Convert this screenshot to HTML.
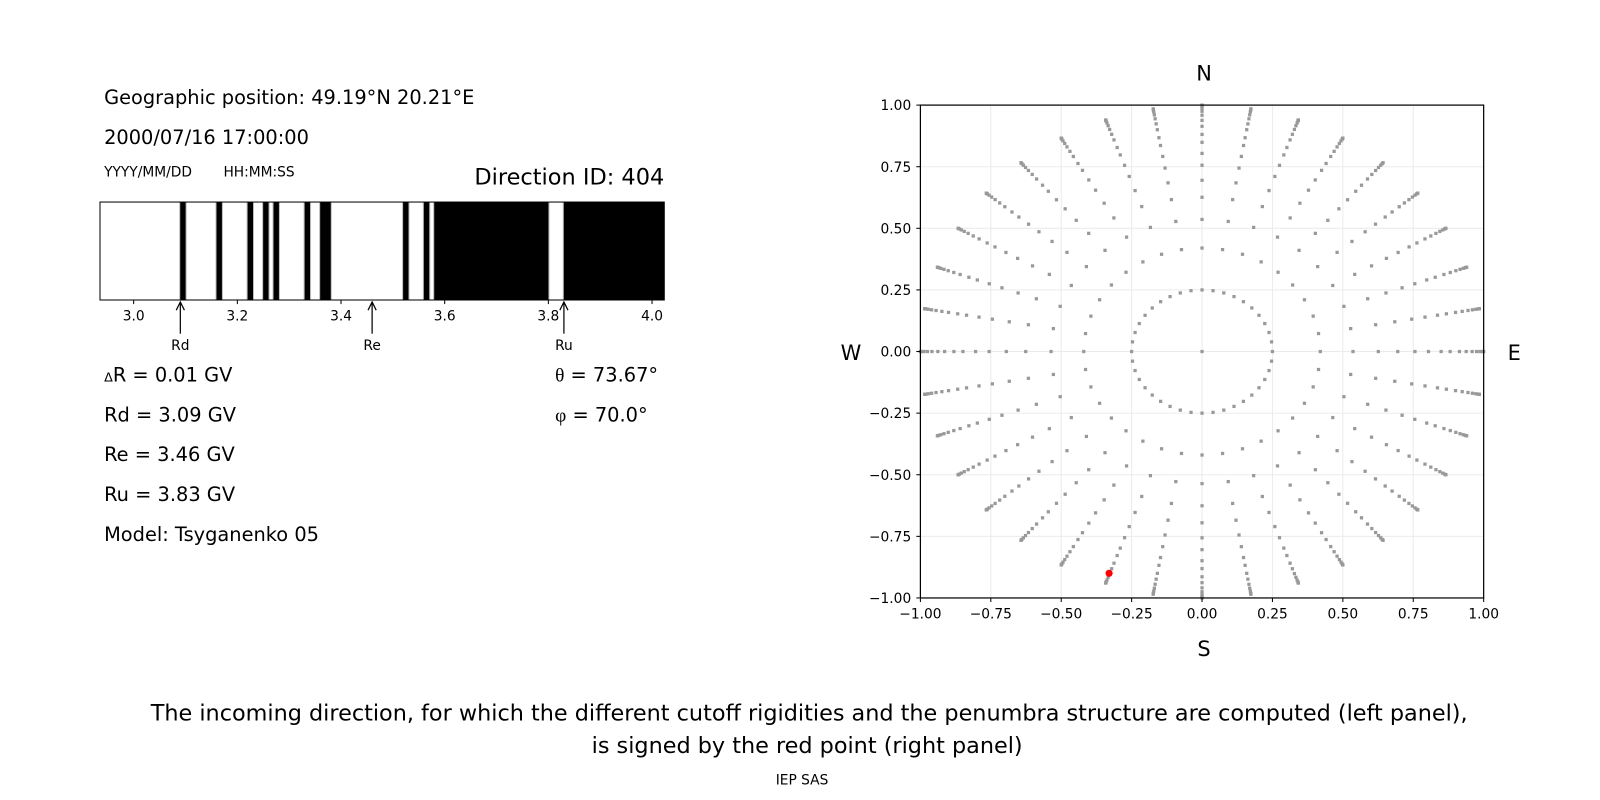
<!DOCTYPE html>
<html><head><meta charset="utf-8">
<style>
html,body{margin:0;padding:0;background:#fff;}
svg{display:block;font-family:"DejaVu Sans","Liberation Sans",sans-serif;}
</style></head>
<body>
<svg id="s" width="1600" height="800" viewBox="0 0 1600 800" xmlns="http://www.w3.org/2000/svg">
<rect width="1600" height="800" fill="#fff"/>
<g transform="scale(1.0204)">
<text x="102" y="102" font-size="19">Geographic position: 49.19°N 20.21°E</text>
<text x="102" y="141" font-size="19">2000/07/16 17:00:00</text>
<text x="102" y="173" font-size="13.5">YYYY/MM/DD</text>
<text x="219" y="173" font-size="13.5">HH:MM:SS</text>
<text x="651" y="181" font-size="22" text-anchor="end">Direction ID: 404</text>
<g id="bar"></g>
<g font-size="19">
<text x="102" y="374"><tspan font-size="12.5">Δ</tspan>R = 0.01 GV</text>
<text x="102" y="413">Rd = 3.09 GV</text>
<text x="102" y="452">Re = 3.46 GV</text>
<text x="102" y="491">Ru = 3.83 GV</text>
<text x="102" y="530">Model: Tsyganenko 05</text>
<text x="544" y="374"><tspan font-family="Liberation Serif,serif">θ</tspan> = 73.67°</text>
<text x="544" y="413"><tspan font-family="Liberation Serif,serif">φ</tspan> = 70.0°</text>
</g>
<g id="grid"></g>
<g id="dots"></g>
<rect x="902" y="103" width="552" height="483" fill="none" stroke="#000" stroke-width="1.2"/>
<g id="ticks" font-size="13.5"></g>
<g font-size="20.5" text-anchor="middle">
<text x="1180" y="79">N</text>
<text x="1180" y="643">S</text>
<text x="834" y="353">W</text>
<text x="1484" y="353">E</text>
</g>
<g text-anchor="middle">
<text x="793" y="706" font-size="21.9">The incoming direction, for which the different cutoff rigidities and the penumbra structure are computed (left panel),</text>
<text x="791" y="738" font-size="21.9">is signed by the red point (right panel)</text>
<text x="786" y="769" font-size="13.5">IEP SAS</text>
</g>
</g>
</svg>
<script>
var NS="http://www.w3.org/2000/svg";
function el(p,t,a,txt){var e=document.createElementNS(NS,t);for(var k in a)e.setAttribute(k,a[k]);if(txt!==undefined)e.textContent=txt;p.appendChild(e);return e;}
var bar=document.getElementById('bar');
var bx=function(v){return 131+(v-3.0)*508;};
var L=98,R=651,T=198,B=294;
el(bar,'rect',{x:L,y:T,width:R-L,height:B-T,fill:'#fff'});
var segs=[[3.09,3.10],[3.16,3.17],[3.22,3.23],[3.25,3.26],[3.27,3.28],[3.33,3.34],[3.36,3.38],[3.52,3.53],[3.56,3.57],[3.58,3.80],[3.83,4.03]];
segs.forEach(function(s){var x1=bx(s[0])-0.6,x2=Math.min(bx(s[1])+0.6,R);el(bar,'rect',{x:x1,y:T,width:x2-x1,height:B-T,fill:'#000'});
 el(bar,'line',{x1:x1,y1:T,x2:x1,y2:B,stroke:'#bbb','stroke-width':1});if(x2<R)el(bar,'line',{x1:x2,y1:T,x2:x2,y2:B,stroke:'#bbb','stroke-width':1});});
el(bar,'rect',{x:L,y:T,width:R-L,height:B-T,fill:'none',stroke:'#000','stroke-width':1});
[3.0,3.2,3.4,3.6,3.8,4.0].forEach(function(v){var x=bx(v);el(bar,'line',{x1:x,y1:B,x2:x,y2:B+4,stroke:'#000'});el(bar,'text',{x:x,y:B+20,'font-size':13.5,'text-anchor':'middle'},v.toFixed(1));});
[[3.09,'Rd'],[3.46,'Re'],[3.83,'Ru']].forEach(function(a){var x=bx(a[0]);
 el(bar,'line',{x1:x,y1:327,x2:x,y2:297,stroke:'#000','stroke-width':1.2});
 el(bar,'path',{d:'M'+(x-4)+' '+304+' L'+x+' 296 L'+(x+4)+' 304',fill:'none',stroke:'#000','stroke-width':1.2});
 el(bar,'text',{x:x,y:343,'font-size':13.5,'text-anchor':'middle'},a[1]);});
var cx=1178,cy=344.5,sx=276,sy=241.5;
var grid=document.getElementById('grid'),ticks=document.getElementById('ticks');
for(var i=-4;i<=4;i++){var v=i*0.25;var x=cx+v*sx,y=cy-v*sy;
 if(i>-4&&i<4){el(grid,'line',{x1:x,y1:103,x2:x,y2:586,stroke:'#ebebeb','stroke-width':1});el(grid,'line',{x1:902,y1:y,x2:1454,y2:y,stroke:'#ebebeb','stroke-width':1});}
 var lab=(v<0?'\u2212':'')+Math.abs(v).toFixed(2);
 el(ticks,'line',{x1:x,y1:586,x2:x,y2:590,stroke:'#000'});
 el(ticks,'text',{x:x,y:606,'text-anchor':'middle'},lab);
 el(ticks,'line',{x1:898,y1:y,x2:902,y2:y,stroke:'#000'});
 el(ticks,'text',{x:893,y:y+5,'text-anchor':'end'},lab);}
var dots=document.getElementById('dots');
function dot(xd,yd){var x=cx+xd*sx,y=cy-yd*sy;el(dots,'rect',{x:x-1.6,y:y-1.6,width:3.2,height:3.2,fill:'#999'});}
dot(0,0);
for(var k=0;k<40;k++){var a=k*Math.PI*2/40;dot(0.25*Math.cos(a),0.25*Math.sin(a));}
var rs=[0.42,0.536,0.626,0.695,0.756,0.804,0.849,0.881,0.914,0.938,0.959,0.975,0.987,0.995,0.999,1.0];
for(var k=0;k<36;k++){var a=k*Math.PI/18;rs.forEach(function(r){dot(r*Math.sin(a),r*Math.cos(a));});}
el(dots,'circle',{cx:cx-0.33*sx,cy:cy+0.90*sy,r:3.5,fill:'#ff0000'});
</script>
</body></html>
